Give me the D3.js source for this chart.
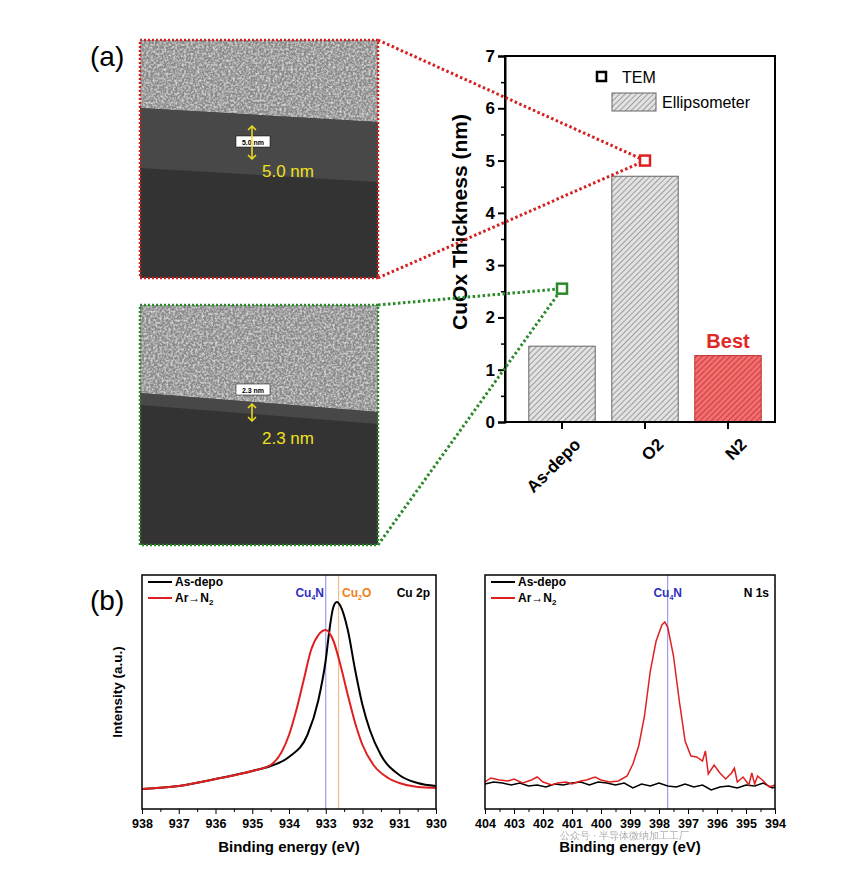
<!DOCTYPE html>
<html><head><meta charset="utf-8">
<script src="https://cdn.jsdelivr.net/npm/d3@7"></script>
<style>body{margin:0;background:#fff}text{font-family:Arial,"Liberation Sans",sans-serif}</style>
</head><body><svg id="c" width="853" height="871"></svg>
<script>
// ---- data ----
const categories=["As-depo","O2","N2"];
const ellipsometer=[1.45,4.7,1.27];
const tem=[{cat:"As-depo",v:2.55},{cat:"O2",v:5.0}];
const yTicks=[0,1,2,3,4,5,6,7];
const cuX=[938,937,936,935,934.5,934,933.5,933.2,933,932.9,932.8,932.7,932.6,932.4,932.2,932,931.8,931.5,931,930.5,930];
const cuBlack=[20,23,30,38,43,52,74,109,149,179,201,207,203,179,139,104,79,54,34,26,23];
const cuRedX=[938,937,936,935,934.5,934.2,934,933.8,933.6,933.4,933.2,933,932.8,932.6,932.4,932.2,932,931.7,931.3,931,930.5,930];
const cuRed=[20,23,30,38,44,57,74,99,129,159,174,179,169,144,114,86,64,44,31,26,22,21];
const nRedX=[404,403.8,403.5,403.2,403,402.7,402.4,402.2,402,401.7,401.5,401.2,401,400.7,400.5,400.2,400,399.7,399.4,399.1,398.9,398.7,398.5,398.3,398.1,397.9,397.8,397.7,397.5,397.3,397.1,396.9,396.7,396.5,396.4,396.3,396.1,395.9,395.7,395.5,395.4,395.3,395.1,394.9,394.8,394.7,394.6,394.4,394.2,394];
const nRed=[27,31,29,28,30,26,29,32,27,24,26,27,25,28,29,32,29,27,28,33,45,63,93,138,168,184,187,182,153,108,68,53,52,48,58,35,44,36,30,36,41,27,32,24,36,25,33,28,22,24];
const nBlackX=[404,403.7,403.4,403.1,402.8,402.5,402.2,401.9,401.6,401.3,401,400.7,400.4,400.1,399.8,399.5,399.2,398.9,398.6,398.3,398,397.7,397.4,397.1,396.8,396.5,396.2,395.9,395.6,395.3,395,394.7,394.4,394.1,394];
const nBlack=[25,27,26,24,26,23,24,22,25,24,26,27,24,27,26,24,26,21,25,23,26,23,22,25,22,24,19,22,23,21,24,23,26,21,22];
const cuTicks=[938,937,936,935,934,933,932,931,930];
const nTicks=[404,403,402,401,400,399,398,397,396,395,394];

const svg=d3.select("#c");
const defs=svg.append("defs");
function hatch(id,bg,fg){const p=defs.append("pattern").attr("id",id).attr("width",4).attr("height",4).attr("patternUnits","userSpaceOnUse").attr("patternTransform","rotate(45)");
p.append("rect").attr("width",4).attr("height",4).attr("fill",bg);p.append("line").attr("x1",0).attr("y1",0).attr("x2",0).attr("y2",4).attr("stroke",fg).attr("stroke-width",1.3);}
hatch("hg","#e2e2e2","#777");hatch("hr","#f07070","#c02020");
const f=defs.append("filter").attr("id","noise").attr("x",0).attr("y",0).attr("width","100%").attr("height","100%");
f.append("feTurbulence").attr("type","fractalNoise").attr("baseFrequency",0.45).attr("numOctaves",2).attr("result","t");
f.append("feColorMatrix").attr("in","t").attr("type","matrix").attr("values","0 0 0 0 1  0 0 0 0 1  0 0 0 0 1  0 0 0 1.4 -0.55").attr("result","a");
f.append("feComposite").attr("in","a").attr("in2","SourceGraphic").attr("operator","in").attr("result","b");
const fm=f.append("feMerge");fm.append("feMergeNode").attr("in","SourceGraphic");fm.append("feMergeNode").attr("in","b");

function temImg(x,y,w,h,yTop1,yTop2,band,col){
 const g=svg.append("g");
 g.append("rect").attr("x",x).attr("y",y).attr("width",w).attr("height",h).attr("fill","#333");
 g.append("path").attr("d",`M${x},${y}H${x+w}V${yTop2}L${x},${yTop1}Z`).attr("fill","#8a8a8a").attr("filter","url(#noise)");
 g.append("path").attr("d",`M${x},${yTop1}L${x+w},${yTop2}V${yTop2+band}L${x},${yTop1+band}Z`).attr("fill","#4a4a4a").attr("opacity",0.9);
 g.append("rect").attr("x",x).attr("y",y).attr("width",w).attr("height",h).attr("fill","none").attr("stroke",col).attr("stroke-width",2.5).attr("stroke-dasharray","2,2");
 return g;}
temImg(140,40,238,238,108,122,60,"#d42020");
temImg(140,305,238,240,393,412,12,"#2a8a2a");
function temLabel(yb,y1,y2,ty,t){
 svg.append("rect").attr("x",236).attr("y",yb-7).attr("width",34).attr("height",11).attr("fill","#fff").attr("stroke","#000").attr("stroke-width",0.5);
 svg.append("text").attr("x",253).attr("y",yb+2).attr("font-size",7).attr("font-weight","bold").attr("text-anchor","middle").text(t);
 svg.append("line").attr("x1",252).attr("x2",252).attr("y1",y1).attr("y2",y2).attr("stroke","#f0e020").attr("stroke-width",1.5);
 svg.append("path").attr("d",`M248,${y1+4}L252,${y1}L256,${y1+4}M248,${y2-4}L252,${y2}L256,${y2-4}`).attr("stroke","#f0e020").attr("fill","none").attr("stroke-width",1.5);
 svg.append("text").attr("x",262).attr("y",ty).attr("font-size",17).attr("fill","#f0e020").text(t);}
temLabel(143,126,159,177,"5.0 nm");
temLabel(391,404,421,444,"2.3 nm");
svg.append("text").attr("x",90).attr("y",66).attr("font-family","Liberation Serif,serif").attr("font-size",28).text("(a)");
svg.append("text").attr("x",90).attr("y",610).attr("font-family","Liberation Serif,serif").attr("font-size",28).text("(b)");

const bx=d3.scaleBand().domain(categories).range([520.5,769.5]).paddingInner(0.2).paddingOuter(0.1);
const by=d3.scaleLinear().domain([0,7]).range([422,56]);
const bg=svg.append("g");
bg.selectAll(".bar").data(categories).join("rect").attr("x",d=>bx(d)).attr("width",bx.bandwidth())
 .attr("y",(d,i)=>by(ellipsometer[i])).attr("height",(d,i)=>by(0)-by(ellipsometer[i]))
 .attr("fill",d=>d==="N2"?"url(#hr)":"url(#hg)").attr("stroke",d=>d==="N2"?"#c03030":"#666").attr("stroke-width",1);
bg.append("rect").attr("x",505).attr("y",56).attr("width",270).attr("height",366).attr("fill","none").attr("stroke","#000").attr("stroke-width",2);
const ya=bg.append("g").attr("transform","translate(505,0)").call(d3.axisLeft(by).tickValues(yTicks).tickSize(7).tickFormat(d3.format("d")));
ya.select(".domain").attr("stroke-width",2);
ya.selectAll("line").attr("stroke-width",2);ya.selectAll("text").attr("font-size",17).attr("font-weight","bold").attr("font-family","Arial");
const ym=bg.append("g").attr("transform","translate(505,0)").call(d3.axisLeft(by).tickValues(d3.range(0.5,7,1)).tickSize(4).tickFormat(""));
ym.select(".domain").remove();ym.selectAll("line").attr("stroke-width",1.5);
const xa=bg.append("g").attr("transform","translate(0,422)").call(d3.axisBottom(bx).tickSize(7));
xa.select(".domain").remove();xa.selectAll("line").attr("stroke-width",2);
xa.selectAll("text").attr("font-size",17).attr("font-weight","bold").attr("font-family","Arial").attr("text-anchor","end").attr("transform","translate(4,8) rotate(-45)");
bg.append("text").attr("transform","translate(467,222) rotate(-90)").attr("text-anchor","middle").attr("font-size",21).attr("font-weight","bold").text("CuOx Thickness (nm)");
const pO2=[bx("O2")+bx.bandwidth()/2,by(5.0)], pAs=[bx("As-depo")+bx.bandwidth()/2,by(2.55)];
[[378,40,"#d42020",pO2],[378,278,"#d42020",pO2],[378,305,"#2a8a2a",pAs],[378,545,"#2a8a2a",pAs]].forEach(([x,y,c,p])=>{
 svg.append("line").attr("x1",x).attr("y1",y).attr("x2",p[0]).attr("y2",p[1]).attr("stroke",c).attr("stroke-width",3).attr("stroke-dasharray","2.5,2.5");});
svg.selectAll(".tem").data(tem).join("rect").attr("x",d=>bx(d.cat)+bx.bandwidth()/2-5).attr("y",d=>by(d.v)-5).attr("width",10).attr("height",10)
 .attr("fill","#fff").attr("stroke",d=>d.cat==="O2"?"#e02020":"#2a8a2a").attr("stroke-width",2.5);
svg.append("text").attr("x",bx("N2")+bx.bandwidth()/2).attr("y",by(1.27)-8).attr("text-anchor","middle").attr("font-size",20).attr("font-weight","bold").attr("fill","#e02828").text("Best");
svg.append("rect").attr("x",597).attr("y",72).attr("width",9).attr("height",9).attr("fill","#fff").attr("stroke","#000").attr("stroke-width",2.5);
svg.append("text").attr("x",622).attr("y",83).attr("font-size",16).text("TEM");
svg.append("rect").attr("x",612).attr("y",93).attr("width",44).attr("height",18).attr("fill","url(#hg)").attr("stroke","#666");
svg.append("text").attr("x",662).attr("y",108).attr("font-size",16).text("Ellipsometer");

function panel(x0,x1,dom,ticks,series,vlines,title,ylabel){
 const x=d3.scaleLinear().domain(dom).range([x0,x1]);
 const y=d3.scaleLinear().domain([0,234]).range([809,575]);
 const g=svg.append("g");
 vlines.forEach(v=>{g.append("line").attr("x1",x(v.e)).attr("x2",x(v.e)).attr("y1",575).attr("y2",809).attr("stroke",v.c).attr("stroke-width",1);});
 series.forEach(s=>{g.append("path").datum(s.xs.map((e,i)=>[e,s.ys[i]])).attr("d",d3.line().x(d=>x(d[0])).y(d=>y(d[1])).curve(s.smooth?d3.curveMonotoneX:d3.curveLinear))
   .attr("fill","none").attr("stroke",s.c).attr("stroke-width",s.w);});
 g.append("rect").attr("x",x0).attr("y",575).attr("width",x1-x0).attr("height",234).attr("fill","none").attr("stroke","#000").attr("stroke-width",1.5);
 const ax=g.append("g").attr("transform","translate(0,809)").call(d3.axisBottom(x).tickValues(ticks).tickSize(5).tickFormat(d3.format("d")));
 ax.select(".domain").remove();ax.selectAll("text").attr("font-size",12.5).attr("font-weight","bold").attr("font-family","Arial").attr("dy","0.9em");
 const mn=g.append("g").attr("transform","translate(0,809)").call(d3.axisBottom(x).tickValues(d3.range(Math.min(...dom)+0.5,Math.max(...dom),1)).tickSize(3).tickFormat(""));
 mn.select(".domain").remove();
 g.append("text").attr("x",(x0+x1)/2).attr("y",852).attr("text-anchor","middle").attr("font-size",15).attr("font-weight","bold").text("Binding energy (eV)");
 if(ylabel){g.append("text").attr("transform",`translate(${x0-20},692) rotate(-90)`).attr("text-anchor","middle").attr("font-size",13.5).attr("font-weight","bold").text(ylabel);}
 g.append("text").attr("x",x1-6).attr("y",597).attr("text-anchor","end").attr("font-size",12).attr("font-weight","bold").text(title);
 [["As-depo","#000",586],["Ar\u2192N","#e02020",602]].forEach(([t,c,yy],i)=>{
  g.append("line").attr("x1",x0+6).attr("x2",x0+30).attr("y1",yy-4).attr("y2",yy-4).attr("stroke",c).attr("stroke-width",2);
  const tx=g.append("text").attr("x",x0+33).attr("y",yy).attr("font-size",12).attr("font-weight","bold").text(t);
  if(i===1){tx.append("tspan").attr("font-size",8).attr("dy",3).text("2");}});
 vlines.forEach(v=>{const t=g.append("text").attr("x",x(v.e)+v.dx).attr("y",597).attr("text-anchor","middle").attr("font-size",12).attr("font-weight","bold").attr("fill",v.c2).text("Cu");
  t.append("tspan").attr("font-size",7).attr("dy",3).text(v.sub);t.append("tspan").attr("dy",-3).text(v.el);});
 return x;}
panel(142,436,[938,930],cuTicks,[{xs:cuX,ys:cuBlack,c:"#000",w:2,smooth:true},{xs:cuRedX,ys:cuRed,c:"#e02020",w:2,smooth:true}],
 [{e:933.0,c:"#8888ee",c2:"#3030c0",dx:-16,sub:"4",el:"N"},{e:932.65,c:"#f0b080",c2:"#f08020",dx:18,sub:"2",el:"O"}],"Cu 2p","Intensity (a.u.)");
panel(485,775,[404,394],nTicks,[{xs:nBlackX,ys:nBlack,c:"#000",w:1.5},{xs:nRedX,ys:nRed,c:"#e02020",w:1.5}],
 [{e:397.7,c:"#8888ee",c2:"#3030c0",dx:0,sub:"4",el:"N"}],"N 1s",null);
svg.append("text").attr("x",560).attr("y",839).attr("font-family","Noto Sans CJK SC").attr("font-size",10).attr("fill","#999").attr("opacity",0.8).text("公众号 · 半导体微纳加工工厂");
</script></body></html>
